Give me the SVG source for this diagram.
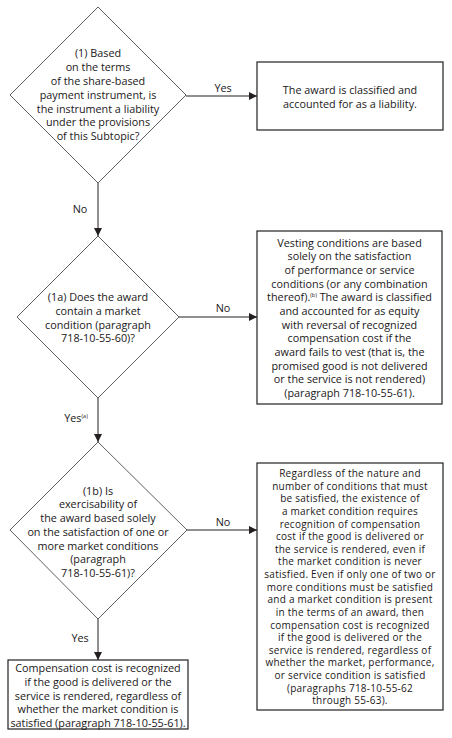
<svg xmlns="http://www.w3.org/2000/svg" width="452" height="738" viewBox="0 0 452 738">
<style>
text{font-family:"Open Sans","Noto Sans","DejaVu Sans",sans-serif;font-size:10.8px;fill:#1a1718;text-anchor:middle}
.dia{fill:#fff;stroke:#4d4d4d;stroke-width:0.9}
.box{fill:#fff;stroke:#231f20;stroke-width:1.2}
.con{stroke:#231f20;stroke-width:1;fill:none}
.sup{font-size:5.5px}
.tight{font-size:10px;letter-spacing:0.25px}
</style>
<defs>
<marker id="ah" viewBox="0 0 8 8" refX="8" refY="4" markerWidth="8" markerHeight="8" markerUnits="userSpaceOnUse" orient="auto">
<path d="M0,0 L8,4 L0,8 Z" fill="#231f20"/>
</marker>
</defs>
<rect width="452" height="738" fill="#fff"/>
<g id="connectors">
<line class="con" x1="186" y1="96" x2="257" y2="96" marker-end="url(#ah)"/>
<line class="con" x1="98" y1="183" x2="98" y2="236" marker-end="url(#ah)"/>
<line class="con" x1="179" y1="317" x2="257" y2="317" marker-end="url(#ah)"/>
<line class="con" x1="98" y1="398" x2="98" y2="442" marker-end="url(#ah)"/>
<line class="con" x1="187" y1="530" x2="257" y2="530" marker-end="url(#ah)"/>
<line class="con" x1="98" y1="619" x2="98" y2="660" marker-end="url(#ah)"/>
<text x="223" y="92">Yes</text>
<text x="80" y="213">No</text>
<text x="223" y="312">No</text>
<text x="76" y="422">Yes<tspan class="sup" dy="-4">(a)</tspan></text>
<text x="223" y="526">No</text>
<text x="80" y="642">Yes</text>
</g>
<g id="d1">
<polygon class="dia" points="98,7 186,95 98,183 10,95"/>
<text><tspan x="98" y="57.3">(1) Based</tspan><tspan x="98" dy="13.8">on the terms</tspan><tspan x="98" dy="13.8">of the share-based</tspan><tspan x="98" dy="13.8">payment instrument, is</tspan><tspan x="98" dy="13.8">the instrument a liability</tspan><tspan x="98" dy="13.8">under the provisions</tspan><tspan x="98" dy="13.8">of this Subtopic?</tspan></text>
</g>
<g id="b1">
<rect class="box" x="257" y="62" width="186" height="68"/>
<text><tspan x="350" y="94">The award is classified and</tspan><tspan x="350" dy="14">accounted for as a liability.</tspan></text>
</g>
<g id="d2">
<polygon class="dia" points="98,236 179,317 98,398 17,317"/>
<text><tspan x="98" y="301.3">(1a) Does the award</tspan><tspan x="98" dy="13.7">contain a market</tspan><tspan x="98" dy="13.7">condition (paragraph</tspan><tspan x="98" dy="13.7">718-10-55-60)?</tspan></text>
</g>
<g id="b2">
<rect class="box" x="257" y="231" width="185" height="173"/>
<text><tspan x="349.5" y="246.7">Vesting conditions are based</tspan><tspan x="349.5" dy="13.65">solely on the satisfaction</tspan><tspan x="349.5" dy="13.65">of performance or service</tspan><tspan x="349.5" dy="13.65">conditions (or any combination</tspan><tspan x="349.5" dy="13.65">thereof).<tspan class="sup" dy="-4">(b)</tspan><tspan dy="4"> The award is classified</tspan></tspan><tspan x="349.5" dy="13.65">and accounted for as equity</tspan><tspan x="349.5" dy="13.65">with reversal of recognized</tspan><tspan x="349.5" dy="13.65">compensation cost if the</tspan><tspan x="349.5" dy="13.65">award fails to vest (that is, the</tspan><tspan x="349.5" dy="13.65">promised good is not delivered</tspan><tspan x="349.5" dy="13.65">or the service is not rendered)</tspan><tspan x="349.5" dy="13.65">(paragraph 718-10-55-61).</tspan></text>
</g>
<g id="d3">
<polygon class="dia" points="98,442 187,530 98,619 10,530"/>
<text><tspan x="98" y="494.7">(1b) Is</tspan><tspan x="98" dy="13.7">exercisability of</tspan><tspan x="98" dy="13.7">the award based solely</tspan><tspan x="98" dy="13.7">on the satisfaction of one or</tspan><tspan x="98" dy="13.7">more market conditions</tspan><tspan x="98" dy="13.7">(paragraph</tspan><tspan x="98" dy="13.7">718-10-55-61)?</tspan></text>
</g>
<g id="b3">
<rect class="box" x="8" y="660" width="180" height="69"/>
<text><tspan x="98" y="672.3">Compensation cost is recognized</tspan><tspan x="98" dy="13.7">if the good is delivered or the</tspan><tspan x="98" dy="13.7">service is rendered, regardless of</tspan><tspan x="98" dy="13.7">whether the market condition is</tspan><tspan x="98" dy="13.7">satisfied (paragraph 718-10-55-61).</tspan></text>
</g>
<g id="b4">
<rect class="box" x="257" y="463" width="186" height="247"/>
<text class="tight"><tspan x="350" y="477">Regardless of the nature and</tspan><tspan x="350" dy="12.63">number of conditions that must</tspan><tspan x="350" dy="12.63">be satisfied, the existence of</tspan><tspan x="350" dy="12.63">a market condition requires</tspan><tspan x="350" dy="12.63">recognition of compensation</tspan><tspan x="350" dy="12.63">cost if the good is delivered or</tspan><tspan x="350" dy="12.63">the service is rendered, even if</tspan><tspan x="350" dy="12.63">the market condition is never</tspan><tspan x="350" dy="12.63">satisfied. Even if only one of two or</tspan><tspan x="350" dy="12.63">more conditions must be satisfied</tspan><tspan x="350" dy="12.63">and a market condition is present</tspan><tspan x="350" dy="12.63">in the terms of an award, then</tspan><tspan x="350" dy="12.63">compensation cost is recognized</tspan><tspan x="350" dy="12.63">if the good is delivered or the</tspan><tspan x="350" dy="12.63">service is rendered, regardless of</tspan><tspan x="350" dy="12.63">whether the market, performance,</tspan><tspan x="350" dy="12.63">or service condition is satisfied</tspan><tspan x="350" dy="12.63">(paragraphs 718-10-55-62</tspan><tspan x="350" dy="12.63">through 55-63).</tspan></text>
</g>
</svg>
